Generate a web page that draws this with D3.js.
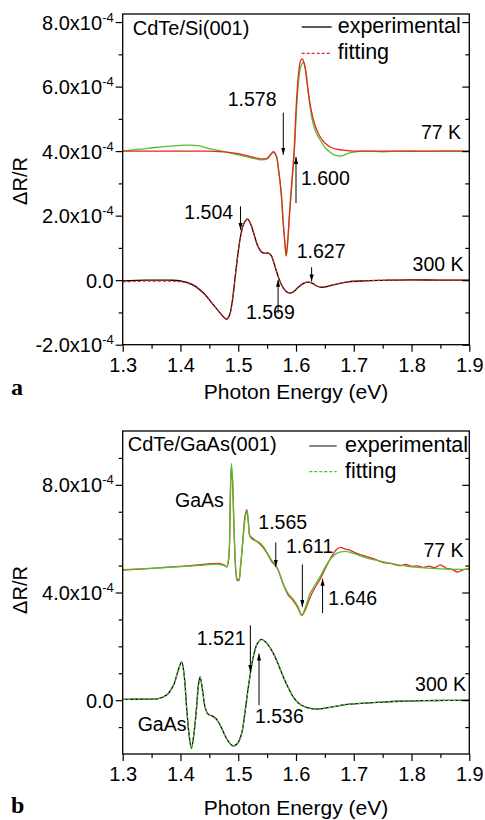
<!DOCTYPE html>
<html>
<head>
<meta charset="utf-8">
<script src="https://cdn.jsdelivr.net/npm/d3@7"></script>
<style>
body{margin:0;background:#fff;}
svg text{font-family:"Liberation Sans",Arial,sans-serif;fill:#000;}
</style>
</head>
<body>
<svg id="chart" width="485" height="820"></svg>
<script>
// all dR/R values are in units of 1e-4

// panel a : CdTe/Si(001)
const topE77fit = [1.30,1.35,1.40,1.45,1.48,1.50,1.52,1.54,1.55,1.556,1.561,1.566,1.570,1.574,1.578,1.581,1.583,1.586,1.589,1.593,1.597,1.601,1.605,1.608,1.611,1.615,1.620,1.626,1.633,1.640,1.650,1.660,1.670,1.685,1.70,1.75,1.80,1.85,1.90];
const topFit77 = [4.0,4.0,4.0,4.0,3.97,3.92,3.84,3.76,3.78,3.9,3.98,3.85,3.4,2.8,1.75,1.1,0.76,1.3,2.15,3.1,4.1,5.6,6.5,6.8,6.86,6.65,6.0,5.3,4.8,4.5,4.25,4.12,4.06,4.02,4.0,4.0,4.0,4.0,4.0];

const topE77exp = [1.30,1.33,1.36,1.40,1.43,1.45,1.48,1.50,1.52,1.54,1.55,1.556,1.561,1.566,1.570,1.574,1.578,1.581,1.583,1.586,1.589,1.593,1.597,1.601,1.605,1.609,1.613,1.617,1.622,1.628,1.634,1.640,1.650,1.660,1.670,1.679,1.690,1.700,1.72,1.75,1.78,1.82,1.86,1.90];
const topExp77 = [4.0,4.06,4.12,4.18,4.17,4.08,3.97,3.88,3.8,3.73,3.76,3.88,3.96,3.83,3.38,2.75,1.75,1.1,0.74,1.25,2.05,3.0,3.95,5.3,6.25,6.65,6.76,6.5,5.7,4.98,4.6,4.4,4.12,3.95,3.86,3.85,3.93,3.97,4.0,3.98,4.0,3.99,4.01,4.0];

const topE300 = [1.30,1.34,1.38,1.40,1.42,1.44,1.455,1.467,1.475,1.480,1.485,1.490,1.496,1.503,1.509,1.516,1.522,1.528,1.534,1.540,1.546,1.552,1.557,1.562,1.569,1.576,1.583,1.590,1.597,1.605,1.613,1.621,1.628,1.636,1.645,1.655,1.670,1.690,1.720,1.760,1.80,1.85,1.90];
const topExp300 = [-0.02,0.0,0.0,-0.02,-0.13,-0.4,-0.72,-0.98,-1.15,-1.21,-1.08,-0.62,0.3,1.25,1.72,1.89,1.72,1.38,1.05,0.88,0.83,0.84,0.77,0.52,0.12,-0.18,-0.35,-0.4,-0.34,-0.2,-0.1,-0.06,-0.09,-0.18,-0.22,-0.19,-0.12,-0.05,-0.02,0.0,0.01,0.0,0.0];
const topFit300 = [-0.05,-0.03,-0.03,-0.05,-0.15,-0.41,-0.72,-0.98,-1.15,-1.21,-1.08,-0.62,0.3,1.25,1.72,1.88,1.72,1.38,1.05,0.88,0.83,0.84,0.77,0.52,0.12,-0.18,-0.35,-0.4,-0.34,-0.2,-0.1,-0.06,-0.09,-0.18,-0.22,-0.19,-0.12,-0.05,-0.02,0.0,0.0,0.0,0.0];

// panel b : CdTe/GaAs(001)
const botE77fit = [1.30,1.35,1.40,1.44,1.465,1.476,1.480,1.4835,1.486,1.488,1.490,1.4925,1.496,1.4985,1.501,1.504,1.508,1.5115,1.5147,1.5175,1.5205,1.526,1.535,1.543,1.550,1.558,1.567,1.578,1.586,1.595,1.603,1.610,1.617,1.624,1.632,1.642,1.652,1.662,1.672,1.685,1.70,1.72,1.75,1.78,1.81,1.85,1.90];
const botFit77 = [4.85,4.9,4.96,5.02,5.05,5.0,4.95,5.3,7.3,8.8,8.3,6.6,4.8,4.5,4.47,5.0,5.9,6.7,7.02,6.6,6.06,5.95,5.88,5.72,5.48,5.19,4.94,4.32,3.98,3.75,3.5,3.17,3.5,3.95,4.25,4.6,5.0,5.3,5.47,5.53,5.45,5.3,5.15,5.02,4.93,4.88,4.86];

const botE77exp = [1.30,1.35,1.40,1.44,1.465,1.476,1.480,1.4835,1.486,1.488,1.490,1.4925,1.496,1.4985,1.501,1.504,1.508,1.5115,1.5147,1.5175,1.5205,1.526,1.535,1.543,1.550,1.558,1.567,1.578,1.586,1.595,1.603,1.610,1.617,1.624,1.632,1.642,1.652,1.662,1.670,1.677,1.684,1.692,1.70,1.71,1.72,1.735,1.75,1.765,1.78,1.79,1.80,1.81,1.82,1.83,1.84,1.85,1.86,1.87,1.88,1.89,1.90];
const botExp77 = [4.83,4.9,4.97,5.04,5.08,5.02,4.95,5.25,7.1,8.65,8.2,6.5,4.75,4.45,4.45,4.95,5.95,6.8,7.08,6.65,6.1,6.0,5.85,5.68,5.45,5.15,4.92,4.3,3.92,3.7,3.45,3.15,3.4,3.8,4.15,4.5,4.95,5.35,5.6,5.68,5.62,5.58,5.5,5.42,5.35,5.25,5.12,5.07,5.0,5.04,4.97,4.99,4.93,4.98,4.92,5.03,4.9,4.86,4.76,4.85,4.88];

const botE300 = [1.30,1.34,1.36,1.376,1.388,1.396,1.402,1.406,1.411,1.415,1.419,1.423,1.428,1.431,1.434,1.438,1.4425,1.447,1.451,1.456,1.462,1.468,1.474,1.482,1.4915,1.499,1.506,1.512,1.5175,1.526,1.533,1.5405,1.548,1.555,1.561,1.570,1.578,1.587,1.595,1.605,1.618,1.636,1.655,1.675,1.693,1.72,1.75,1.78,1.82,1.86,1.90];
const botExp300 = [0.03,0.04,0.05,0.19,0.56,1.1,1.42,1.0,-0.37,-1.3,-1.79,-1.3,-0.25,0.55,0.86,0.4,-0.25,-0.5,-0.56,-0.6,-0.7,-0.9,-1.17,-1.5,-1.7,-1.6,-1.23,-0.4,0.49,1.6,2.1,2.26,2.15,1.95,1.73,1.3,0.86,0.45,0.12,-0.12,-0.27,-0.33,-0.28,-0.2,-0.15,-0.11,-0.07,-0.04,-0.02,-0.01,0.0];
const botFit300 = [0.03,0.04,0.05,0.19,0.56,1.1,1.42,1.0,-0.37,-1.3,-1.79,-1.3,-0.25,0.55,0.86,0.4,-0.25,-0.5,-0.56,-0.6,-0.7,-0.9,-1.17,-1.5,-1.7,-1.6,-1.23,-0.4,0.49,1.6,2.1,2.26,2.15,1.95,1.73,1.3,0.86,0.45,0.12,-0.12,-0.27,-0.33,-0.28,-0.2,-0.15,-0.11,-0.07,-0.04,-0.02,-0.01,0.0];

// ticks
const xMajor = [1.3,1.4,1.5,1.6,1.7,1.8,1.9];
const xMinor = [1.35,1.45,1.55,1.65,1.75,1.85];
const topYMajor = [-2,0,2,4,6,8];
const topYMinor = [-1,1,3,5,7];
const botYMajor = [0,4,8];
const botYMinor = [-1,1,2,3,5,6,7,9];

// arrows: energy, from value, to value (1e-4 units)
const topArrows = [[1.578,5.19,3.89],[1.600,2.39,3.82],[1.504,2.29,1.56],[1.627,0.40,-0.04],[1.569,-1.02,0.01]];
const botArrows = [[1.565,5.86,4.96],[1.611,5.04,3.46],[1.646,3.23,4.51],[1.521,2.78,1.05],[1.536,-0.19,1.73]];

const RED = "#e8261c", GREEN = "#52c02e";
const xLeft = 122.7, xRight = 469.3;

let svg = d3.select("#chart");
svg.append("rect").attr("width",485).attr("height",820).attr("fill","#fff");

let defs = svg.append("defs");
defs.append("marker").attr("id","head")
  .attr("viewBox","0 0 10 6").attr("refX",10).attr("refY",3)
  .attr("markerWidth",7).attr("markerHeight",4.2).attr("orient","auto")
  .append("path").attr("d","M0,0L10,3L0,6z").attr("fill","#000");

function drawPanel(p){
  let x = d3.scaleLinear().domain([1.3,1.9]).range([xLeft,xRight]);
  let y = d3.scaleLinear().domain(p.yDomain).range([p.bottom,p.top]);
  let g = svg.append("g");

  let line = d3.line().x(function(d){return x(d[0])}).y(function(d){return y(d[1])})
    .curve(d3.curveCatmullRom.alpha(0.5));

  p.series.forEach(function(s){
    g.append("path").datum(d3.zip(s.e, s.v))
      .attr("d", line)
      .attr("fill","none")
      .attr("stroke", s.color)
      .attr("stroke-width", s.dash ? 1.2 : 1.3)
      .attr("stroke-dasharray", s.dash || null);
  });

  // frame
  g.append("rect").attr("x",xLeft).attr("y",p.top)
    .attr("width",xRight-xLeft).attr("height",p.bottom-p.top)
    .attr("fill","none").attr("stroke","#000").attr("stroke-width",1.3);

  // bottom axis
  g.append("g").attr("transform","translate(0,"+p.bottom+")")
    .call(d3.axisBottom(x).tickValues(xMajor).tickSize(7).tickPadding(6).tickSizeOuter(0).tickFormat(d3.format(".1f")))
    .call(function(a){a.select(".domain").remove()})
    .attr("font-size",20).attr("font-family",null);
  g.append("g").attr("transform","translate(0,"+p.bottom+")")
    .call(d3.axisBottom(x).tickValues(xMinor).tickSize(4).tickSizeOuter(0).tickFormat(""))
    .call(function(a){a.select(".domain").remove()});

  // left axis
  g.append("g").attr("transform","translate("+xLeft+",0)")
    .call(d3.axisLeft(y).tickValues(p.yMajor).tickSize(7).tickSizeOuter(0).tickFormat(""))
    .call(function(a){a.select(".domain").remove()});
  g.append("g").attr("transform","translate("+xLeft+",0)")
    .call(d3.axisLeft(y).tickValues(p.yMinor).tickSize(4).tickSizeOuter(0).tickFormat(""))
    .call(function(a){a.select(".domain").remove()});

  // right axis, ticks inside
  g.append("g").attr("transform","translate("+xRight+",0)")
    .call(d3.axisLeft(y).tickValues(p.yMajor).tickSize(7).tickSizeOuter(0).tickFormat(""))
    .call(function(a){a.select(".domain").remove()});
  g.append("g").attr("transform","translate("+xRight+",0)")
    .call(d3.axisLeft(y).tickValues(p.yMinor).tickSize(4).tickSizeOuter(0).tickFormat(""))
    .call(function(a){a.select(".domain").remove()});

  g.selectAll(".tick line").attr("stroke","#000").attr("stroke-width",1.2);

  // y tick labels with superscript
  g.selectAll(".ylab").data(p.yMajor).enter().append("text")
    .attr("class","ylab")
    .attr("x", xLeft-9)
    .attr("y", function(d){return y(d)+7.5})
    .attr("text-anchor","end")
    .attr("font-size",20)
    .each(function(d){
      let t = d3.select(this);
      if(d===0){ t.text("0.0"); return; }
      t.append("tspan").text(d.toFixed(1)+"x10");
      t.append("tspan").attr("dy",-8).attr("font-size",13).text("-4");
    });

  // arrows
  g.selectAll(".arrow").data(p.arrows).enter().append("line")
    .attr("x1", function(d){return x(d[0])}).attr("x2", function(d){return x(d[0])})
    .attr("y1", function(d){return y(d[1])}).attr("y2", function(d){return y(d[2])})
    .attr("stroke","#000").attr("stroke-width",1)
    .attr("marker-end","url(#head)");

  // annotations
  p.labels.forEach(function(l){
    g.append("text").attr("x",l[1]).attr("y",l[2])
      .attr("font-size", l[4] || 19.5)
      .attr("text-anchor", l[3] || "start")
      .text(l[0]);
  });

  // legend
  g.append("line").attr("x1",p.legend.x1).attr("x2",p.legend.x2)
    .attr("y1",p.legend.y1).attr("y2",p.legend.y1)
    .attr("stroke",p.legend.c1).attr("stroke-width",1.3);
  g.append("line").attr("x1",p.legend.x1).attr("x2",p.legend.x2)
    .attr("y1",p.legend.y2).attr("y2",p.legend.y2)
    .attr("stroke",p.legend.c2).attr("stroke-width",1.2).attr("stroke-dasharray","3,2");
  g.append("text").attr("x",p.legend.tx).attr("y",p.legend.y1+6).attr("font-size",21.5).text("experimental");
  g.append("text").attr("x",p.legend.tx).attr("y",p.legend.y2+6).attr("font-size",21.5).text("fitting");

  // axis titles
  g.append("text").attr("x",(xLeft+xRight)/2).attr("y",p.xTitleY)
    .attr("text-anchor","middle").attr("font-size",21).text("Photon Energy (eV)");
  g.append("text").attr("transform","translate(27,"+p.yTitleY+") rotate(-90)")
    .attr("text-anchor","middle").attr("font-size",20).text("\u0394R/R");
  g.append("text").attr("x",11).attr("y",p.tagY)
    .attr("font-size",24).attr("font-weight","bold")
    .style("font-family","'Liberation Serif','Times New Roman',serif")
    .text(p.tag);
}

drawPanel({
  top: 14, bottom: 344.7, yDomain: [-2, 8.25],
  yMajor: topYMajor, yMinor: topYMinor,
  series: [
    {e: topE77exp, v: topExp77, color: GREEN},
    {e: topE77fit, v: topFit77, color: RED},
    {e: topE300, v: topExp300, color: "#000"},
    {e: topE300, v: topFit300, color: RED, dash: "3,2"}
  ],
  arrows: topArrows,
  labels: [
    ["CdTe/Si(001)",132.7,35,"start",20],
    ["1.578",227.7,106],
    ["1.600",301,185],
    ["1.504",184.3,219.3],
    ["1.627",296.7,258.3],
    ["1.569",246,319.3],
    ["77 K",461,139.3,"end"],
    ["300 K",463.5,270.7,"end"]
  ],
  legend: {x1:301.7, x2:331.7, y1:27, y2:53.3, tx:337.7, c1:"#000", c2:RED},
  xTitleY: 398.5, yTitleY: 181, tag: "a", tagY: 395
});

drawPanel({
  top: 431, bottom: 754, yDomain: [-2, 10],
  yMajor: botYMajor, yMinor: botYMinor,
  series: [
    {e: botE77exp, v: botExp77, color: RED},
    {e: botE77fit, v: botFit77, color: GREEN},
    {e: botE300, v: botExp300, color: "#000"},
    {e: botE300, v: botFit300, color: GREEN, dash: "3,2"}
  ],
  arrows: botArrows,
  labels: [
    ["CdTe/GaAs(001)",127.7,451,"start",20],
    ["GaAs",175,507.3],
    ["1.565",258.3,529.3],
    ["1.611",286,552.7],
    ["1.646",328.3,605],
    ["77 K",463.5,557.3,"end"],
    ["1.521",196.7,645],
    ["1.536",255,723.3],
    ["GaAs",137.7,730.7],
    ["300 K",466,690.7,"end"]
  ],
  legend: {x1:309.3, x2:336.7, y1:446, y2:471.7, tx:345, c1:"#444", c2:GREEN},
  xTitleY: 815, yTitleY: 590, tag: "b", tagY: 813
});
</script>
</body>
</html>
